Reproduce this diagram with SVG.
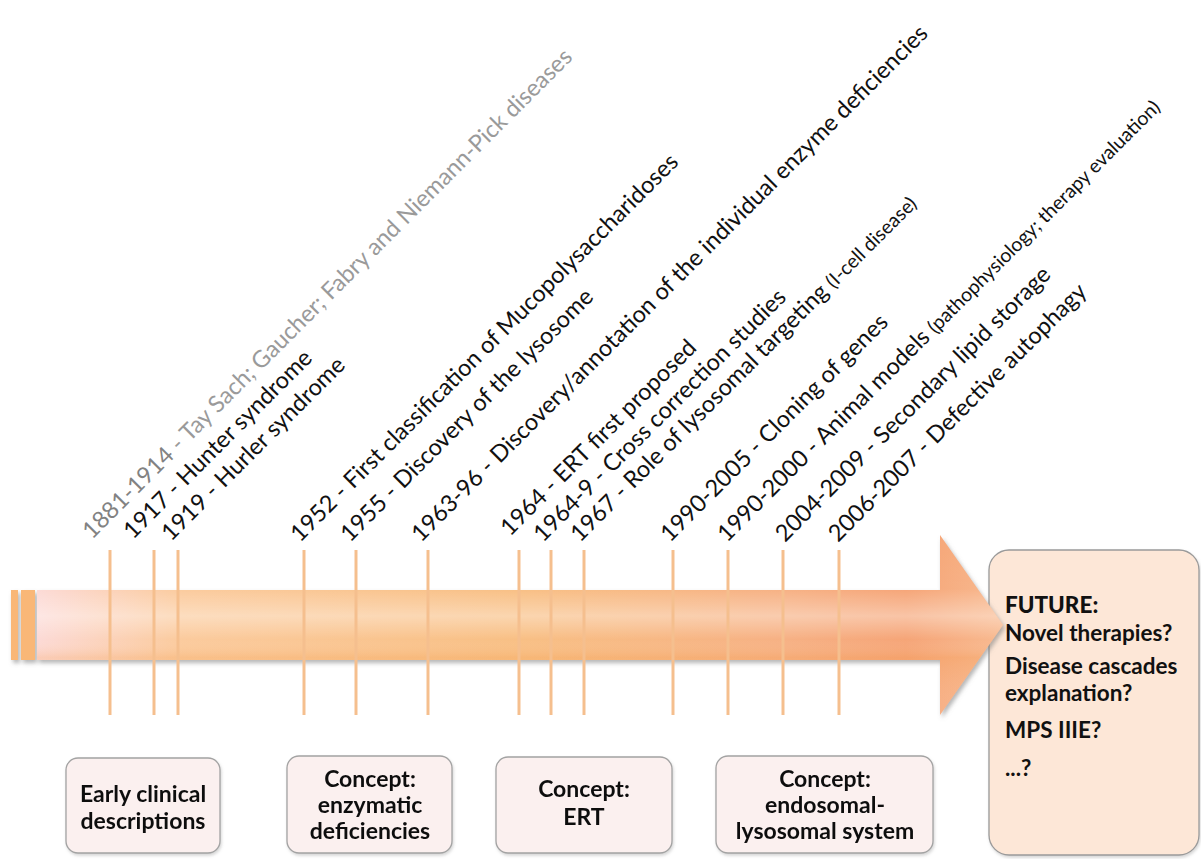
<svg xmlns="http://www.w3.org/2000/svg" width="1201" height="859" viewBox="0 0 1201 859">
  <style>
    .lbl { font-family: Lato, "Open Sans", sans-serif; font-size: 23.5px; fill: #111; }
    .gray { fill: #9a9a9a; }
    .gyear { fill: #828282; }
    .small { font-size: 19.5px; }
    .box { fill: #fbf0ef; stroke: #a3a3a3; stroke-width: 1.3; }
    .fut { fill: #fde7d7; stroke: #9a9a9a; stroke-width: 1.3; }
    .bt { font-family: Lato, "Open Sans", sans-serif; font-size: 23px; font-weight: bold; fill: #111; text-anchor: middle; }
    .ft { font-family: Lato, "Open Sans", sans-serif; font-size: 22.5px; font-weight: bold; fill: #111; }
    .tick { stroke: #f5bf8e; stroke-width: 3; }
  </style>
  <defs>
    <linearGradient id="gx" x1="0" y1="0" x2="1" y2="0">
      <stop offset="0" stop-color="#fcd8d4"/>
      <stop offset="0.15" stop-color="#fbc898"/>
      <stop offset="0.5" stop-color="#f8bc7e"/>
      <stop offset="0.78" stop-color="#f6ac7d"/>
      <stop offset="0.9" stop-color="#f5a070"/>
      <stop offset="1" stop-color="#f8b68a"/>
    </linearGradient>
    <linearGradient id="gy" gradientUnits="userSpaceOnUse" x1="0" y1="535" x2="0" y2="715">
      <stop offset="0" stop-color="#ffffff" stop-opacity="0"/>
      <stop offset="0.3" stop-color="#ffffff" stop-opacity="0.05"/>
      <stop offset="0.45" stop-color="#ffffff" stop-opacity="0.38"/>
      <stop offset="0.58" stop-color="#ffffff" stop-opacity="0.05"/>
      <stop offset="0.68" stop-color="#f5a860" stop-opacity="0.25"/>
      <stop offset="1" stop-color="#ffffff" stop-opacity="0.1"/>
    </linearGradient>
    <filter id="sh" x="-5%" y="-20%" width="110%" height="140%">
      <feDropShadow dx="2" dy="3" stdDeviation="2" flood-color="#7a7a7a" flood-opacity="0.55"/>
    </filter>
    <filter id="bsh" x="-10%" y="-10%" width="120%" height="120%">
      <feDropShadow dx="1" dy="2" stdDeviation="1.5" flood-color="#999" flood-opacity="0.4"/>
    </filter>
  </defs>
  <rect width="1201" height="859" fill="#ffffff"/>

  <g id="future" filter="url(#bsh)">
    <rect class="fut" x="989" y="550" width="210" height="305" rx="20"/>
  </g>

  <g id="arrow" filter="url(#sh)">
    <rect x="11" y="590" width="7" height="70" fill="#f9b777"/>
    <rect x="21" y="590" width="14" height="70" fill="#f9b777"/>
    <path d="M37,590 H940 V535 L1003,625 L940,715 V660 H37 Z" fill="url(#gx)"/>
    <path d="M37,590 H940 V535 L1003,625 L940,715 V660 H37 Z" fill="url(#gy)"/>
  </g>

  <g id="connectors">
    <line class="tick" x1="110" y1="550" x2="110" y2="715"/>
    <line class="tick" x1="154" y1="550" x2="154" y2="715"/>
    <line class="tick" x1="178" y1="550" x2="178" y2="715"/>
    <line class="tick" x1="304" y1="550" x2="304" y2="715"/>
    <line class="tick" x1="356" y1="550" x2="356" y2="715"/>
    <line class="tick" x1="428" y1="550" x2="428" y2="715"/>
    <line class="tick" x1="519" y1="550" x2="519" y2="715"/>
    <line class="tick" x1="551" y1="550" x2="551" y2="715"/>
    <line class="tick" x1="584" y1="550" x2="584" y2="715"/>
    <line class="tick" x1="673" y1="550" x2="673" y2="715"/>
    <line class="tick" x1="728" y1="550" x2="728" y2="715"/>
    <line class="tick" x1="783" y1="550" x2="783" y2="715"/>
    <line class="tick" x1="839" y1="550" x2="839" y2="715"/>
  </g>

  <g id="labels">
    <text class="lbl gray" transform="translate(92,540) rotate(-45)"><tspan class="gyear">1881-1914</tspan> - Tay Sach; Gaucher; Fabry and Niemann-Pick diseases</text>
    <text class="lbl" transform="translate(133,540) rotate(-45)">1917 - Hunter syndrome</text>
    <text class="lbl" transform="translate(171,542) rotate(-45)">1919 - Hurler syndrome</text>
    <text class="lbl" transform="translate(300,543) rotate(-45)">1952 - First classification of Mucopolysaccharidoses</text>
    <text class="lbl" transform="translate(350,543) rotate(-45)">1955 - Discovery of the lysosome</text>
    <text class="lbl" transform="translate(421,543) rotate(-45)">1963-96 - Discovery/annotation of the individual enzyme deficiencies</text>
    <text class="lbl" transform="translate(510,537) rotate(-45)">1964 - ERT first proposed</text>
    <text class="lbl" transform="translate(543,543) rotate(-45)">1964-9 - Cross correction studies</text>
    <text class="lbl" transform="translate(580,543) rotate(-45)">1967 - Role of lysosomal  targeting <tspan class="small">(I-cell disease)</tspan></text>
    <text class="lbl" transform="translate(670,543) rotate(-45)">1990-2005 - Cloning of genes</text>
    <text class="lbl" transform="translate(727,543) rotate(-45)">1990-2000 - Animal models <tspan class="small">(pathophysiology; therapy evaluation)</tspan></text>
    <text class="lbl" transform="translate(785,543) rotate(-45)">2004-2009 - Secondary lipid storage</text>
    <text class="lbl" transform="translate(838,543) rotate(-45)">2006-2007 - Defective autophagy</text>
  </g>

  <g id="box-early" filter="url(#bsh)">
    <rect class="box" x="66" y="758" width="154" height="95" rx="12"/>
    <text class="bt" x="143" y="802">Early clinical</text>
    <text class="bt" x="143" y="829">descriptions</text>
  </g>
  <g id="box-enzymatic" filter="url(#bsh)">
    <rect class="box" x="287" y="756" width="165" height="97" rx="12"/>
    <text class="bt" x="370" y="787">Concept:</text>
    <text class="bt" x="370" y="813">enzymatic</text>
    <text class="bt" x="370" y="839">deficiencies</text>
  </g>
  <g id="box-ert" filter="url(#bsh)">
    <rect class="box" x="496" y="757" width="176" height="96" rx="12"/>
    <text class="bt" x="584" y="797">Concept:</text>
    <text class="bt" x="584" y="825">ERT</text>
  </g>
  <g id="box-endosomal" filter="url(#bsh)">
    <rect class="box" x="716" y="756" width="217" height="97" rx="12"/>
    <text class="bt" x="825" y="787">Concept:</text>
    <text class="bt" x="825" y="813">endosomal-</text>
    <text class="bt" x="825" y="839">lysosomal system</text>
  </g>

  <g id="future-text">
    <text class="ft" x="1005" y="613" style="font-weight:900">FUTURE:</text>
    <text class="ft" x="1005" y="641">Novel therapies?</text>
    <text class="ft" x="1005" y="674">Disease cascades</text>
    <text class="ft" x="1005" y="701">explanation?</text>
    <text class="ft" x="1005" y="738">MPS IIIE?</text>
    <text class="ft" x="1005" y="776">...?</text>
  </g>
</svg>
